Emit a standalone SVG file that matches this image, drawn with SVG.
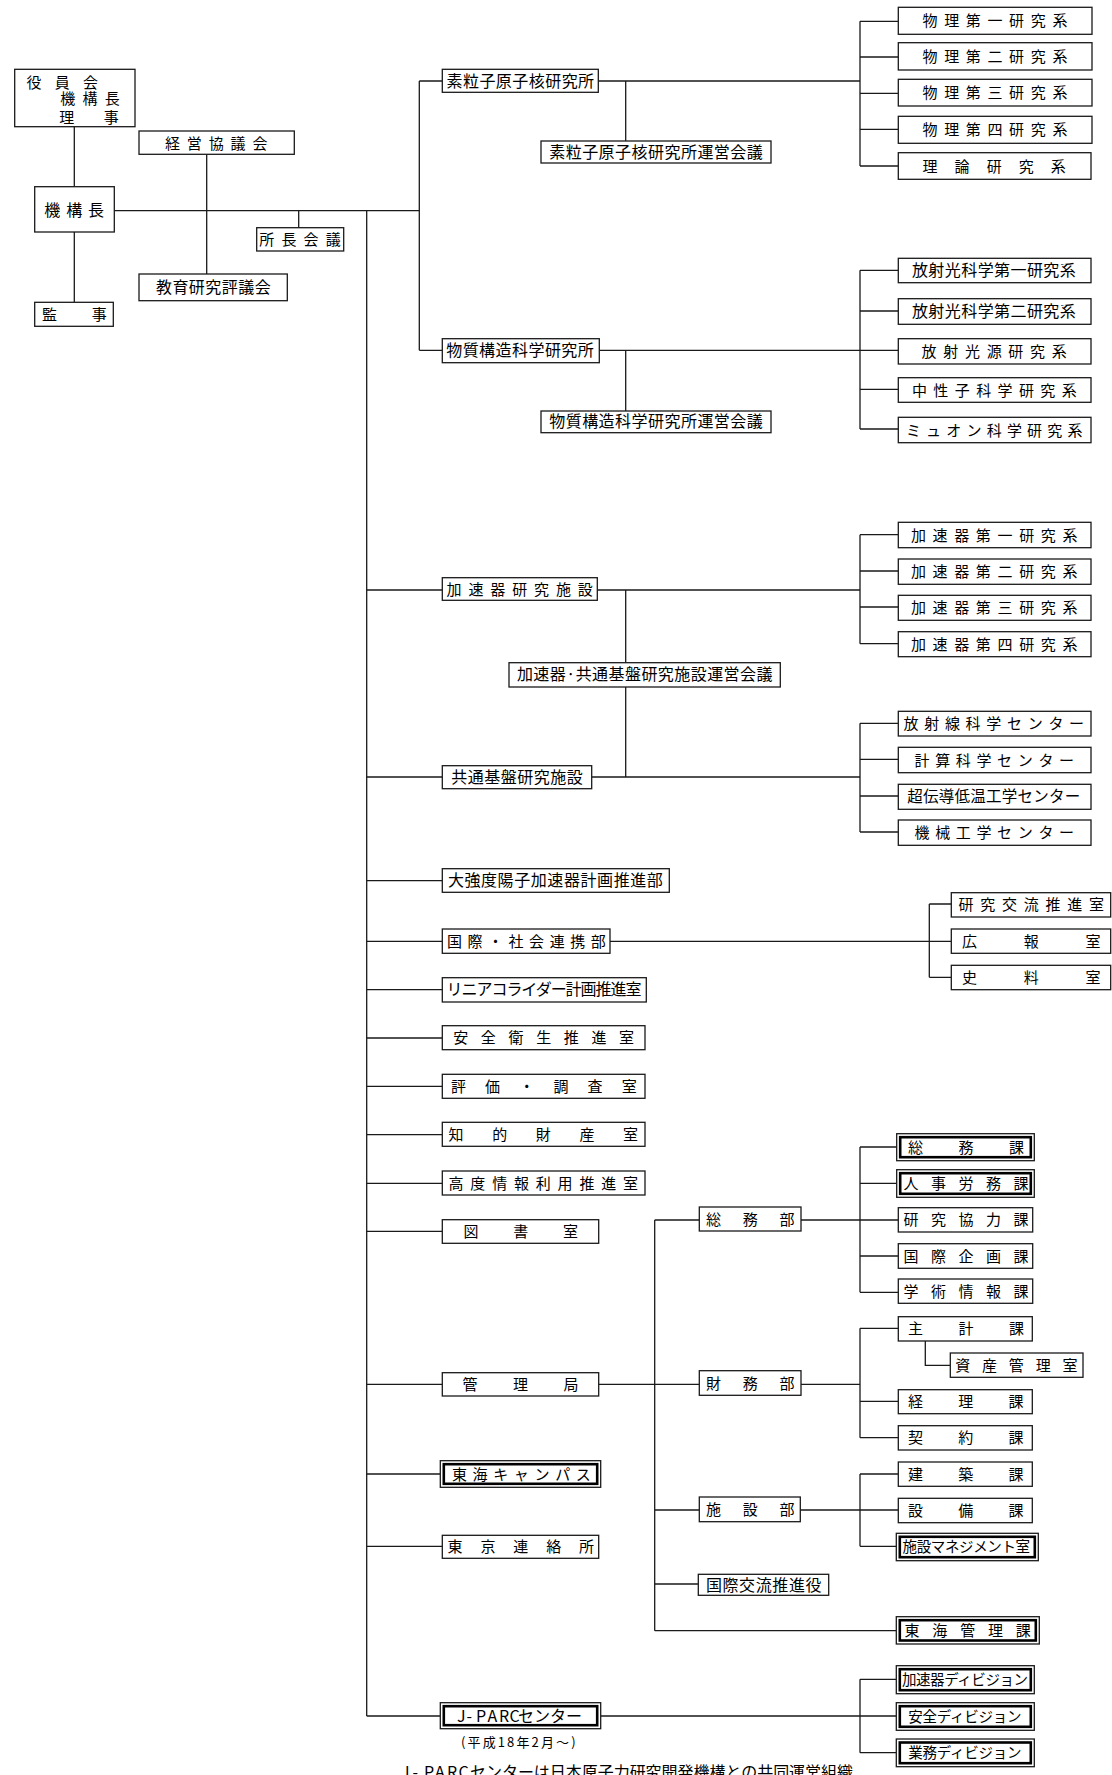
<svg xmlns="http://www.w3.org/2000/svg" width="1112" height="1775" viewBox="0 0 1112 1775">
<style>
.b{fill:#fff;stroke:#1a1a1a;stroke-width:1.3}
.i{fill:none;stroke:#000;stroke-width:2.6}
.t{font-family:"Noto Sans CJK JP","Noto Sans CJK SC",sans-serif;font-size:15px;fill:#000}
.s16{font-size:16px}
.s13{font-size:13px}
.s145{font-size:14.5px}
.s155{font-size:15.5px}
.c path{fill:none;stroke:#1a1a1a;stroke-width:1.3}
</style>
<rect width="1112" height="1775" fill="#fff"/>
<g class="c" id="connectors">
<path d="M74.3 126.7V186.7M74.3 232V302.3M206.7 154.3V274M298.7 210.7V227.7M114.3 210.7H419.3M366.7 210.7V1716"/>
<path d="M419.3 81V350.3M419.3 81H442.3M419.3 350.3H442.3"/>
<path d="M598.3 81H860M625.7 81V141M860 21.3V166M860 21.3H898.3M860 57H898.3M860 93.3H898.3M860 129.3H898.3M860 166H898.3"/>
<path d="M599.3 350.3H898.3M625.7 350.3V411M860 270.3V429M860 270.3H898.3M860 311H898.3M860 389.3H898.3M860 429H898.3"/>
<path d="M366.7 590H442.3M597.3 590H860M625.7 590V662.7M625.7 687V777M860 534.7V643.7M860 534.7H898.3M860 571H898.3M860 607H898.3M860 643.7H898.3"/>
<path d="M366.7 777H442.3M591.7 777H860M860 723.3V832M860 723.3H898.3M860 759.3H898.3M860 796H898.3M860 832H898.3"/>
<path d="M366.7 880.7H442.3M366.7 941.3H442.3M610 941.3H951.3M929.3 904V977.3M929.3 904H951.3M929.3 977.3H951.3"/>
<path d="M366.7 989.7H442.3M366.7 1038H442.3M366.7 1086.3H442.3M366.7 1134.7H442.3M366.7 1183.3H442.3M366.7 1231.3H442.3"/>
<path d="M366.7 1384.3H442.3M598.7 1384.3H699.3M366.7 1474H440.3M366.7 1546.3H442.3M366.7 1716H440.3M600.7 1716H896.3"/>
<path d="M654.7 1220V1630.7M654.7 1220H699.3M654.7 1510H699.3M654.7 1584H698.3M654.7 1630.7H896.3"/>
<path d="M801 1220H860M860 1147V1292.3M860 1147H896.7M860 1183.3H896.7M860 1220H898.3M860 1256H898.3M860 1292.3H898.3"/>
<path d="M801 1384.3H860M860 1328.3V1437.7M860 1328.3H898.3M860 1401.3H898.3M860 1437.7H898.3M925.3 1341V1365.3H950.3"/>
<path d="M800.3 1510H860M860 1474V1546.3M860 1474H898.3M860 1510H898.3M860 1546.3H896.3"/>
<path d="M860 1679.3V1752.7M860 1679.3H896.3M860 1752.7H896.3"/>
</g>
<g id="yakuinkai"><rect class="b" x="14.7" y="69.3" width="120.3" height="57.4"/>
<text class="t" x="26.5" y="88" textLength="71.5">役員会</text>
<text class="t" x="60.2" y="104" textLength="59.6">機構長</text>
<text class="t" x="59.2" y="122.5" textLength="59.6">理事</text></g>
<g id="kikoucho"><rect class="b" x="34.7" y="186.7" width="79.6" height="45.3"/><text class="t s16" x="44.2" y="216" textLength="59.9">機構長</text></g>
<g id="kanji"><rect class="b" x="34.7" y="302.3" width="78.6" height="24"/><text class="t" x="41.9" y="320" textLength="64.9">監事</text></g>
<g id="keiei"><rect class="b" x="139" y="131" width="155.3" height="23.3"/><text class="t" x="164.9" y="148.5" textLength="102.6">経営協議会</text></g>
<g id="kyoiku"><rect class="b" x="139" y="274" width="148.3" height="26.7"/><text class="t s16" x="155.9" y="293" textLength="114.9">教育研究評議会</text></g>
<g id="shocho"><rect class="b" x="256.7" y="227.7" width="87" height="23.3"/><text class="t" x="259.2" y="244.8" textLength="81.6">所長会議</text></g>
<g id="soryushi"><rect class="b" x="442.3" y="69.3" width="156" height="23"/><text class="t s16" x="446.5" y="86.5" textLength="147.6">素粒子原子核研究所</text></g>
<g id="soryushi-unei"><rect class="b" x="541" y="141" width="230" height="22"/><text class="t s16" x="549.2" y="157.6" textLength="213.6">素粒子原子核研究所運営会議</text></g>
<g id="butsuri1"><rect class="b" x="898.3" y="7.3" width="193.7" height="27"/><text class="t" x="922.5" y="26.3" textLength="144.9">物理第一研究系</text></g>
<g id="butsuri2"><rect class="b" x="898.3" y="42.7" width="193.7" height="27.3"/><text class="t" x="922.5" y="61.8" textLength="144.9">物理第二研究系</text></g>
<g id="butsuri3"><rect class="b" x="898.3" y="79.3" width="193.7" height="26.7"/><text class="t" x="922.5" y="98.2" textLength="144.9">物理第三研究系</text></g>
<g id="butsuri4"><rect class="b" x="898.3" y="116.3" width="193.7" height="27"/><text class="t" x="922.5" y="135.3" textLength="144.9">物理第四研究系</text></g>
<g id="riron"><rect class="b" x="898.3" y="152.7" width="192.7" height="26.6"/><text class="t" x="922.5" y="171.5" textLength="143.3">理論研究系</text></g>
<g id="bussitsu"><rect class="b" x="442.3" y="338.7" width="157" height="24"/><text class="t s16" x="446.2" y="356.2" textLength="147.6">物質構造科学研究所</text></g>
<g id="bussitsu-unei"><rect class="b" x="541" y="411" width="230" height="21.7"/><text class="t s16" x="549.2" y="427.4" textLength="213.6">物質構造科学研究所運営会議</text></g>
<g id="hoshako1"><rect class="b" x="898.3" y="258.3" width="192.7" height="24.4"/><text class="t s16" x="911.9" y="276" textLength="163.9">放射光科学第一研究系</text></g>
<g id="hoshako2"><rect class="b" x="898.3" y="298.7" width="192.7" height="25.6"/><text class="t s16" x="911.9" y="317" textLength="163.9">放射光科学第二研究系</text></g>
<g id="hoshakogen"><rect class="b" x="898.3" y="338.7" width="192.7" height="25.3"/><text class="t" x="921.5" y="356.8" textLength="145.3">放射光源研究系</text></g>
<g id="chuseishi"><rect class="b" x="898.3" y="377.7" width="192.7" height="24.6"/><text class="t" x="911.9" y="395.5" textLength="164.9">中性子科学研究系</text></g>
<g id="muon"><rect class="b" x="898.3" y="417.3" width="192.7" height="25.4"/><text class="t" x="905.9" y="435.5" textLength="176.6">ミュオン科学研究系</text></g>
<g id="kasokuki"><rect class="b" x="442.3" y="577.7" width="155" height="22.6"/><text class="t" x="446.5" y="594.5" textLength="146.3">加速器研究施設</text></g>
<g id="kasokuki-unei"><rect class="b" x="509" y="662.7" width="271.3" height="24.3"/><text class="t s16" x="516.9" y="680.3" textLength="255.6">加速器·共通基盤研究施設運営会議</text></g>
<g id="kasokuki1"><rect class="b" x="898.3" y="522.3" width="192.7" height="25.4"/><text class="t" x="910.9" y="540.5" textLength="166.6">加速器第一研究系</text></g>
<g id="kasokuki2"><rect class="b" x="898.3" y="559" width="192.7" height="25.3"/><text class="t" x="910.9" y="577.2" textLength="166.6">加速器第二研究系</text></g>
<g id="kasokuki3"><rect class="b" x="898.3" y="595.3" width="192.7" height="25"/><text class="t" x="910.9" y="613.3" textLength="166.6">加速器第三研究系</text></g>
<g id="kasokuki4"><rect class="b" x="898.3" y="631.7" width="192.7" height="25"/><text class="t" x="910.9" y="649.7" textLength="166.6">加速器第四研究系</text></g>
<g id="kyotsu"><rect class="b" x="442.3" y="765.7" width="149.4" height="23"/><text class="t s16" x="451.2" y="782.7" textLength="131.6">共通基盤研究施設</text></g>
<g id="hoshasen"><rect class="b" x="898.3" y="711.3" width="192.7" height="24.7"/><text class="t" x="903.5" y="729.2" textLength="180.6">放射線科学センター</text></g>
<g id="keisan"><rect class="b" x="898.3" y="747.3" width="192.7" height="25.4"/><text class="t" x="914.5" y="765.5" textLength="159.6">計算科学センター</text></g>
<g id="chodendo"><rect class="b" x="898.3" y="784.3" width="192.7" height="25"/><text class="t s155" x="907.2" y="802.3" textLength="173">超伝導低温工学センター</text></g>
<g id="kikai"><rect class="b" x="898.3" y="820" width="192.7" height="25.3"/><text class="t" x="914.5" y="838.2" textLength="159.6">機械工学センター</text></g>
<g id="daikyodo"><rect class="b" x="442.3" y="868.7" width="227" height="23.6"/><text class="t s16" x="447.9" y="886" textLength="214.9">大強度陽子加速器計画推進部</text></g>
<g id="kokusai-shakai"><rect class="b" x="442.3" y="929" width="167.7" height="24.3"/><text class="t" x="446.9" y="946.7" textLength="158.9">国際・社会連携部</text></g>
<g id="kenkyu-koryu"><rect class="b" x="951.3" y="892.7" width="159.4" height="24.3"/><text class="t" x="958.5" y="910.3" textLength="145.6">研究交流推進室</text></g>
<g id="koho"><rect class="b" x="951.3" y="929" width="159.4" height="24.3"/><text class="t" x="961.9" y="946.7" textLength="138.7">広報室</text></g>
<g id="shiryo"><rect class="b" x="951.3" y="965.3" width="159.4" height="24.4"/><text class="t" x="961.9" y="983" textLength="138.7">史料室</text></g>
<g id="linear"><rect class="b" x="442.3" y="977.7" width="204" height="24.3"/><text class="t s16" x="446.5" y="995.4" textLength="195">リニアコライダー計画推進室</text></g>
<g id="anzen-eisei"><rect class="b" x="442.3" y="1025.7" width="202.7" height="24"/><text class="t" x="453.2" y="1043.2" textLength="180.9">安全衛生推進室</text></g>
<g id="hyoka"><rect class="b" x="442.3" y="1074.3" width="202.7" height="24"/><text class="t" x="450.9" y="1091.8" textLength="185.9">評価・調査室</text></g>
<g id="chiteki"><rect class="b" x="442.3" y="1122.3" width="202.7" height="24"/><text class="t" x="448.5" y="1139.8" textLength="189.6">知的財産室</text></g>
<g id="kodo-joho"><rect class="b" x="442.3" y="1171" width="202.7" height="24"/><text class="t" x="448.5" y="1188.5" textLength="189.6">高度情報利用推進室</text></g>
<g id="tosho"><rect class="b" x="442.3" y="1219.7" width="156.4" height="23.6"/><text class="t" x="463.5" y="1237" textLength="114.6">図書室</text></g>
<g id="kanrikyoku"><rect class="b" x="442.3" y="1372.7" width="156.4" height="23.3"/><text class="t" x="462.5" y="1389.8" textLength="116">管理局</text></g>
<g id="tokai-campus"><rect class="b" x="440.3" y="1460.7" width="160.4" height="26.6"/><rect class="i" x="443.8" y="1464.2" width="153.4" height="19.6"/><text class="t" x="451.9" y="1479.5" textLength="138.9">東海キャンパス</text></g>
<g id="tokyo"><rect class="b" x="442.3" y="1535.3" width="156.4" height="23"/><text class="t" x="447.5" y="1552.3" textLength="146.6">東京連絡所</text></g>
<g id="jparc"><rect class="b" x="440.3" y="1702.7" width="160.4" height="26"/><rect class="i" x="443.8" y="1706.2" width="153.4" height="19"/>
<text class="t s16" y="1721.5"><tspan x="457">J</tspan><tspan x="466.5">-</tspan><tspan x="476">P</tspan><tspan x="487.5">A</tspan><tspan x="499">R</tspan><tspan x="509.5">C</tspan><tspan x="518">センター</tspan></text></g>
<g id="jparc-note"><text class="t s13" x="461" y="1747" textLength="114.6">(平成18年2月～)</text></g>
<g id="somubu"><rect class="b" x="699.3" y="1207" width="101.7" height="24"/><text class="t" x="705.9" y="1224.5" textLength="88.6">総務部</text></g>
<g id="zaimubu"><rect class="b" x="699.3" y="1370.7" width="101.7" height="24.6"/><text class="t" x="705.9" y="1388.5" textLength="88.6">財務部</text></g>
<g id="shisetsubu"><rect class="b" x="699.3" y="1497" width="101" height="24.7"/><text class="t" x="705.9" y="1514.8" textLength="88.6">施設部</text></g>
<g id="kokusai-koryu"><rect class="b" x="698.3" y="1574.3" width="130.4" height="21"/><text class="t s16" x="705.9" y="1590.6" textLength="115.6">国際交流推進役</text></g>
<g id="somuka"><rect class="b" x="896.7" y="1133.7" width="137.6" height="27"/><rect class="i" x="900.2" y="1137.2" width="130.6" height="20"/><text class="t" x="907.9" y="1152.5" textLength="116.2">総務課</text></g>
<g id="jinji"><rect class="b" x="896.7" y="1169.7" width="137.6" height="27.6"/><rect class="i" x="900.2" y="1173.2" width="130.6" height="20.6"/><text class="t" x="903.5" y="1188.8" textLength="125">人事労務課</text></g>
<g id="kenkyu-kyoryoku"><rect class="b" x="898.3" y="1207.7" width="134.4" height="24.3"/><text class="t" x="903.5" y="1225.3" textLength="125">研究協力課</text></g>
<g id="kokusai-kikaku"><rect class="b" x="898.3" y="1243.7" width="134.4" height="24.6"/><text class="t" x="903.5" y="1261.5" textLength="125">国際企画課</text></g>
<g id="gakujutsu"><rect class="b" x="898.3" y="1279" width="134.4" height="24.3"/><text class="t" x="903.5" y="1296.7" textLength="125">学術情報課</text></g>
<g id="shukei"><rect class="b" x="898.3" y="1316.7" width="134" height="24.3"/><text class="t" x="907.9" y="1334.3" textLength="116.2">主計課</text></g>
<g id="shisan"><rect class="b" x="950.3" y="1353" width="132.7" height="24.3"/><text class="t" x="955.2" y="1370.6" textLength="122.3">資産管理室</text></g>
<g id="keiri"><rect class="b" x="898.3" y="1389.7" width="134" height="24"/><text class="t" x="907.9" y="1407.2" textLength="115.6">経理課</text></g>
<g id="keiyaku"><rect class="b" x="898.3" y="1425.7" width="134" height="24.3"/><text class="t" x="907.9" y="1443.3" textLength="115.6">契約課</text></g>
<g id="kenchiku"><rect class="b" x="898.3" y="1462" width="134" height="24.3"/><text class="t" x="907.9" y="1479.6" textLength="115.6">建築課</text></g>
<g id="setsubi"><rect class="b" x="898.3" y="1498.3" width="134" height="24.4"/><text class="t" x="907.9" y="1516" textLength="115.6">設備課</text></g>
<g id="shisetsu-mgmt"><rect class="b" x="896.3" y="1533.3" width="142" height="27.4"/><rect class="i" x="899.8" y="1536.8" width="135" height="20.4"/><text class="t s145" x="902.5" y="1552.3" textLength="127.6">施設マネジメント室</text></g>
<g id="tokai-kanri"><rect class="b" x="896.3" y="1616.7" width="143" height="27.3"/><rect class="i" x="899.8" y="1620.2" width="136" height="20.3"/><text class="t" x="904.5" y="1635.8" textLength="126.3">東海管理課</text></g>
<g id="acc-div"><rect class="b" x="896.3" y="1665.7" width="138" height="28"/><rect class="i" x="899.8" y="1669.2" width="131" height="21"/><text class="t s145" x="901.9" y="1685" textLength="126.2">加速器ディビジョン</text></g>
<g id="safety-div"><rect class="b" x="896.3" y="1702.7" width="138" height="27.6"/><rect class="i" x="899.8" y="1706.2" width="131" height="20.6"/><text class="t s145" x="908.2" y="1721.8" textLength="113.3">安全ディビジョン</text></g>
<g id="gyomu-div"><rect class="b" x="896.3" y="1739" width="138" height="27.7"/><rect class="i" x="899.8" y="1742.5" width="131" height="20.7"/><text class="t s145" x="908.2" y="1758.2" textLength="113.3">業務ディビジョン</text></g>
<g id="footnote"><text class="t s16" y="1778"><tspan x="401">J</tspan><tspan x="412.5">-</tspan><tspan x="424">P</tspan><tspan x="435">A</tspan><tspan x="447">R</tspan><tspan x="458.5">C</tspan><tspan x="470" textLength="383">センターは日本原子力研究開発機構との共同運営組織</tspan></text></g>
</svg>
